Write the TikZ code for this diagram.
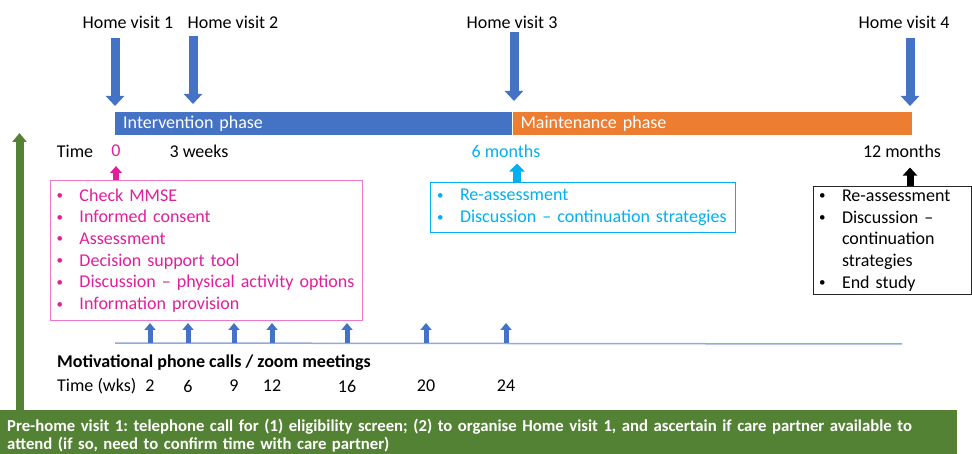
\documentclass[tikz,border=0pt]{standalone}
\usepackage{fontspec}
\setmainfont{Carlito}
\usetikzlibrary{arrows.meta}
\definecolor{visitblue}{RGB}{68,114,196}
\definecolor{phaseorange}{RGB}{237,125,49}
\definecolor{consentpink}{RGB}{226,30,155}
\definecolor{boxpink}{RGB}{238,120,205}
\definecolor{reviewcyan}{RGB}{0,176,240}
\definecolor{callline}{RGB}{143,170,220}
\definecolor{pregreen}{RGB}{84,130,53}
\newcommand{\bul}{\makebox[24pt][l]{\hspace*{1pt}\raisebox{1.5pt}{\fontsize{13}{13}\selectfont\textbullet}}}
\frenchspacing

\begin{document}
\begin{tikzpicture}[x=1pt,y=-1pt,
    every node/.style={font=\fontsize{18}{21.7}\selectfont, inner sep=0pt},
    visit/.style={visitblue, line width=9pt, shorten >=6pt, -{Triangle[width=18pt,length=10pt]}},
    phase/.style={anchor=north west, minimum height=23pt, inner xsep=8pt, text=white, align=left},
    infobox/.style={anchor=north west, align=left, line width=1pt},
    uparrow/.style={line width=8pt, -{Triangle[width=15pt,length=8pt]}},
    call/.style={visitblue, line width=5pt, -{Triangle[width=11pt,length=7pt]}}]
    \useasboundingbox (0,0) rectangle (972,454);

    %home visits
    \node (hv1) at (128,22) {Home visit 1};
    \node (hv2) at (233,22) {Home visit 2};
    \node (hv3) at (512,22) {Home visit 3};
    \node (hv4) at (904,22) {Home visit 4};

    %phases
    \node[phase, fill=visitblue, text width=381pt] (interv) at (115,112) {Intervention phase};
    \node[phase, fill=phaseorange, text width=383pt] (maint) at (interv.north east) {Maintenance phase};

    \coordinate (v1) at (115,38);
    \coordinate (v2) at (193,36);
    \coordinate (v3) at (514,32);
    \coordinate (v4) at (910,38);
    \draw[visit] (v1) -- (v1 |- interv.north);
    \draw[visit, shorten >=8pt] (v2) -- (v2 |- interv.north);
    \draw[visit, shorten >=11pt] (v3) -- (v3 |- interv.north);
    \draw[visit] (v4) -- (v4 |- maint.north);

    %time line
    \node (time) at (75,151) {Time};
    \node[text=consentpink] (zero) at (116,151) {0};
    \node (threewk) at (199,151) {3 weeks};
    \node[text=reviewcyan] (sixm) at (506,151) {6 months};
    \node (twelvem) at (902,151) {12 months};

    %visit contents
    \node[infobox, draw=boxpink, text=consentpink, text width=302pt, inner xsep=5pt, minimum height=140pt] (visitone) at (50,180)
        {\bul Check MMSE\\ \bul Informed consent\\ \bul Assessment\\ \bul Decision support tool\\
         \bul Discussion -- physical activity options\\ \bul Information provision};
    \node[infobox, draw=reviewcyan, text=reviewcyan, text width=294pt, inner xsep=5.5pt, minimum height=50pt] (review) at (430,182)
        {\bul Re-assessment\\ \bul Discussion -- continuation strategies};
    \node[infobox, draw=black!85, text width=149pt, inner xsep=4.5pt, minimum height=108pt] (endstudy) at (813,186)
        {\bul Re-assessment\\ \bul Discussion --\\ \hspace*{24pt}continuation\\ \hspace*{24pt}strategies\\ \bul End study};

    \coordinate (zerotip) at ([yshift=-9pt]zero.south);
    \coordinate (sixtip) at ([xshift=11pt,yshift=-6pt]sixm.south);
    \coordinate (twelvetip) at ([xshift=8pt,yshift=-10pt]twelvem.south);
    \draw[uparrow, consentpink, line width=6pt, -{Triangle[width=12pt,length=7pt]}] (zerotip |- visitone.north) -- (zerotip);
    \draw[uparrow, reviewcyan] (sixtip |- review.north) -- (sixtip);
    \draw[uparrow, black, line width=7pt, -{Triangle[width=14pt,length=8pt]}] (twelvetip |- endstudy.north) -- (twelvetip);

    %phone calls
    \coordinate (callsA) at (115,343);
    \coordinate (callsB) at (902,344);
    \coordinate (callsTop) at (115,323);
    \draw[callline, line width=1.5pt] (callsA) -- (callsB);
    \node[anchor=west, font=\fontsize{18}{21.7}\selectfont\bfseries] (calls) at (57,363) {Motivational phone calls / zoom meetings};
    \node[anchor=west] (wks) at (57,386) {Time (wks)};
    \foreach \w/\x in {2/150,6/188,9/234,12/272,16/347,20/426,24/506} {
        \node (wk\w) at (\x,386) {\w};
        \draw[call] (wk\w |- callsA) -- (wk\w |- callsTop);
    }

    %pre-home visit
    \node[anchor=north west, fill=pregreen, text=white, font=\fontsize{16.7}{18.5}\selectfont\bfseries, minimum height=51pt,
        text width=943pt, inner xsep=7pt, align=left] (previsit) at (0,410)
        {Pre-home visit 1: telephone call for (1) eligibility screen; (2) to organise Home visit 1, and ascertain if care partner available to\\
         attend (if so, need to confirm time with care partner)};
    \coordinate (pretop) at (19.5,133);
    \draw[pregreen, line width=8pt, -{Triangle[width=14pt,length=9pt]}] (previsit.north -| pretop) -- (pretop);
\end{tikzpicture}
\end{document}
